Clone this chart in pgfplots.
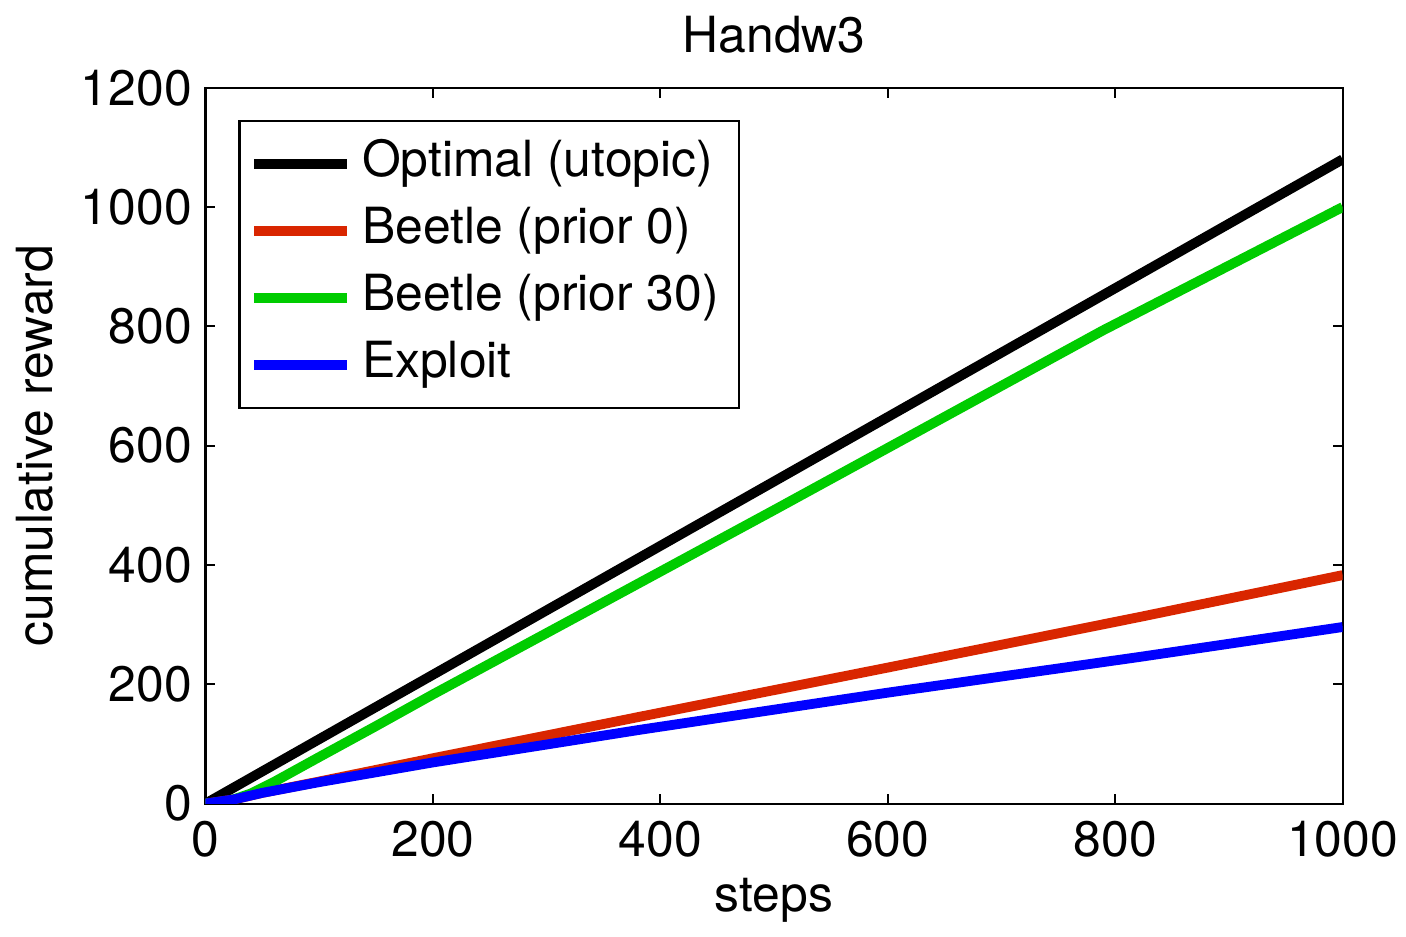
\documentclass[border=0pt]{standalone}
\usepackage{fontspec}
\setmainfont{TeX Gyre Heros}
\usepackage{pgfplots}
\pgfplotsset{compat=1.18}
\definecolor{mred}{RGB}{217,38,0}
\definecolor{mgreen}{RGB}{0,204,0}
\definecolor{mblue}{RGB}{0,0,255}
\begin{document}
\fontsize{14.2}{17}\selectfont
\begin{tikzpicture}
\begin{axis}[
  scale only axis,
  width=11.39cm, height=7.17cm,
  xmin=0, xmax=1000, ymin=0, ymax=1200,
  xtick={0,200,...,1000}, ytick={0,200,...,1200},
  tick align=inside,
  major tick length=0.1cm,
  axis line style={line width=0.6pt},
  tick style={line width=0.5pt, black},
  /pgf/number format/assume math mode=true,
  /pgf/number format/1000 sep={},
  tick label style={font=\fontsize{14.2}{17}\selectfont},
  yticklabel style={inner xsep=0.13cm},
  xticklabel style={inner xsep=0.08cm},
  label style={font=\fontsize{14.2}{17}\selectfont},
  title style={font=\fontsize{14.2}{17}\selectfont, inner ysep=0.16cm, yshift=-0.03cm},
  title={Handw3},
  xlabel={steps},
  ylabel={cumulative reward},
  xlabel style={inner ysep=0.14cm, yshift=0.1cm},
  ylabel style={yshift=-0.03cm},
  legend cell align=left,
  legend style={at={(0.029,0.955)}, anchor=north west, draw=black,
    line width=0.6pt, font=\fontsize{14.2}{17}\selectfont,
    row sep=0.01cm, inner xsep=0.1cm, inner ysep=0.1cm,
    nodes={text height=0.36cm, text depth=0.1cm, inner sep=0.1cm}},
  legend image code/.code={\draw[#1, line width=2.8pt] (0cm,0cm) -- (0.93cm,0cm);},
  every axis plot/.append style={line width=2.8pt},
]
\addplot[black] coordinates {(0,0) (1000,1080)};
\addplot[mred] coordinates {(0,0) (25,7) (50,18) (100,37) (200,76) (383,146) (600,228) (822,313) (1000,383)};
\addplot[mgreen] coordinates {(0,0) (20,4) (40,17) (60,36) (100,78) (150,130) (200,183) (340,327) (500,492) (789,793) (1000,1000)};
\addplot[mblue] coordinates {(0,0) (25,7) (50,18) (100,36) (200,69) (383,124) (600,186) (822,246) (1000,296)};
\legend{Optimal (utopic), Beetle (prior 0), Beetle (prior 30), Exploit}
\end{axis}
\end{tikzpicture}
\end{document}
